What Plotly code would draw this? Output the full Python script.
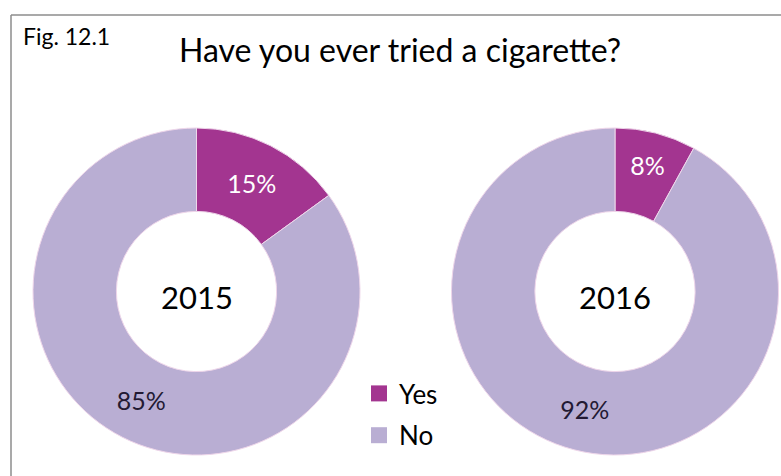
import plotly.graph_objects as go

W, H = 781, 476

categories = ["Yes", "No"]
years = ["2015", "2016"]
values_2015 = [15, 85]
values_2016 = [8, 92]
colors = ["#a33590", "#b9aed3"]
text_colors = ["#ffffff", "#231a33"]

FONT = "Lato"

def px_x(v):
    return v / W

def px_y(v):
    return 1 - v / H

fig = go.Figure()

R = 163.5
centers = [(196.5, 291.5), (615.0, 291.5)]
for (cx, cy), vals, yr in zip(centers, [values_2015, values_2016], years):
    fig.add_trace(go.Pie(
        labels=categories,
        values=vals,
        sort=False,
        direction="clockwise",
        rotation=0,
        hole=0.49,
        marker=dict(colors=colors, line=dict(color="#eed6ea", width=1)),
        texttemplate="%{value}%",
        textposition="inside",
        insidetextorientation="horizontal",
        textfont=dict(family=FONT, size=25, color=text_colors),
        showlegend=False,
        hoverinfo="label+percent",
        domain=dict(x=[px_x(cx - R), px_x(cx + R)], y=[px_y(cy + R), px_y(cy - R)]),
        name=yr,
    ))
    fig.add_annotation(x=px_x(cx), y=px_y(cy + 5), xref="paper", yref="paper",
                       xanchor="center", yanchor="middle",
                       text=yr, showarrow=False,
                       font=dict(family=FONT, size=31, color="#000000"))

# legend entries
for i, (cat, col) in enumerate(zip(categories, colors)):
    fig.add_trace(go.Scatter(
        x=[None], y=[None], mode="markers", name=cat,
        marker=dict(symbol="square", size=16, color=col),
        legendgroup=cat, showlegend=True,
    ))

fig.update_layout(
    width=W, height=H,
    margin=dict(l=0, r=0, t=0, b=0),
    paper_bgcolor="#ffffff",
    plot_bgcolor="#ffffff",
    xaxis=dict(visible=False),
    yaxis=dict(visible=False),
    showlegend=True,
    legend=dict(
        x=px_x(359), y=px_y(370), xanchor="left", yanchor="top",
        font=dict(family=FONT, size=26, color="#000000"),
        tracegroupgap=5, bgcolor="rgba(0,0,0,0)",
        itemsizing="trace",
    ),
    shapes=[
        dict(type="line", xref="paper", yref="paper",
             x0=px_x(11), x1=1, y0=px_y(15), y1=px_y(15),
             line=dict(color="#8c8c8c", width=1.5)),
        dict(type="line", xref="paper", yref="paper",
             x0=px_x(11), x1=px_x(11), y0=px_y(15), y1=0,
             line=dict(color="#8c8c8c", width=1.5)),
    ],
)

fig.add_annotation(x=px_x(400), y=px_y(50), xref="paper", yref="paper",
                   xanchor="center", yanchor="middle",
                   text="Have you ever tried a cigarette?", showarrow=False,
                   font=dict(family=FONT, size=32, color="#000000"))
fig.add_annotation(x=px_x(21), y=px_y(36), xref="paper", yref="paper",
                   xanchor="left", yanchor="middle", text="Fig. 12.1", showarrow=False,
                   font=dict(family=FONT, size=23, color="#000000"))

fig.write_html("out.html", config={"displayModeBar": False},
               post_script="document.body.style.margin='0';document.body.style.overflow='hidden';")
